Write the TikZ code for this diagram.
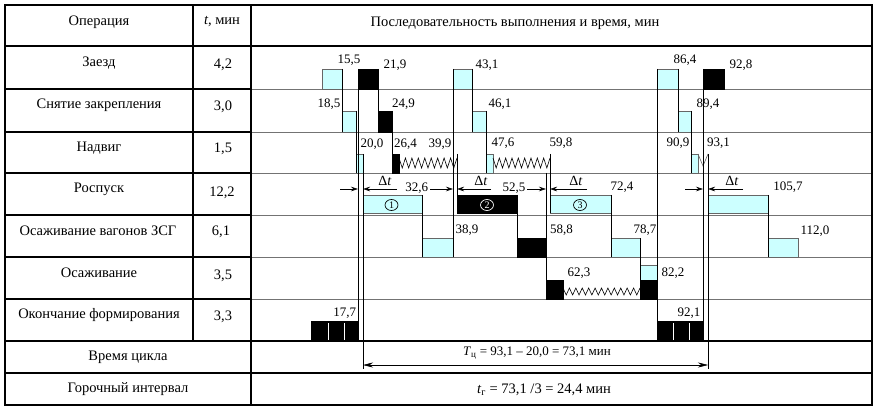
\documentclass[tikz,border=0pt]{standalone}
\usepackage{fontspec}
\setmainfont{Liberation Serif}
\usetikzlibrary{arrows.meta,shapes.geometric}
\definecolor{lcyan}{HTML}{CCFFFF}
\begin{document}
\begin{tikzpicture}[x=1pt,y=-1pt,
  cbox/.style={fill=lcyan,draw=black!60,line width=0.6pt},
  bbox/.style={fill=black,draw=black,line width=0.6pt},
  link/.style={draw=black,line width=0.6pt},
  heavy/.style={line width=1.4pt},
  gridrule/.style={draw=black!55,line width=0.7pt},
  lbl/.style={font=\fontsize{14.5}{17}\selectfont,inner sep=0pt},
  num/.style={font=\fontsize{13}{15}\selectfont,inner sep=0pt},
  dtlbl/.style={font=\fontsize{14}{16}\selectfont,inner sep=0pt},
  dtarrow/.style={-{Stealth[length=7pt,width=4.5pt]},line width=0.6pt},
  numcirc/.style={ellipse,draw,line width=0.7pt,inner sep=0pt,minimum width=13pt,minimum height=11pt,font=\fontsize{10}{11}\selectfont}
]
\useasboundingbox (0,0) rectangle (875,406);

% ---- table grid ----
\foreach \yy in {89,132,173,215,257,299}{
  \draw[gridrule] (251,\yy) -- (872,\yy);
  \draw[line width=1.1pt] (5,\yy) -- (251,\yy);
}
\draw[heavy] (5,46) -- (872,46);
\draw[heavy] (5,341) -- (872,341);
\draw[heavy] (5,373) -- (872,373);
\draw[heavy] (193,5) -- (193,341);
\draw[heavy] (251,5) -- (251,405);
\draw[heavy] (5,5) rectangle (872,405);

% ---- header and row titles ----
\node[lbl] (hOp) at (99,22) {Операция};
\node[lbl] (hT) at (222,22) {\textit{t}, мин};
\node[lbl] (hSeq) at (515,23) {Последовательность выполнения и время, мин};

\node[lbl] (r1) at (99,63) {Заезд};
\node[lbl] (r2) at (99,105) {Снятие закрепления};
\node[lbl] (r3) at (99,148) {Надвиг};
\node[lbl] (r4) at (99,189) {Роспуск};
\node[lbl] (r5) at (98,231) {Осаживание вагонов ЗСГ};
\node[lbl] (r6) at (99,273) {Осаживание};
\node[lbl] (r7) at (99,315) {Окончание формирования};
\node[lbl] (r8) at (128,357) {Время цикла};
\node[lbl] (r9) at (128,389) {Горочный интервал};

\node[lbl] (t1) at (223,65) {4,2};
\node[lbl] (t2) at (223,107) {3,0};
\node[lbl] (t3) at (223,149) {1,5};
\node[lbl] (t4) at (222,193) {12,2};
\node[lbl] (t5) at (221,232) {6,1};
\node[lbl] (t6) at (223,276) {3,5};
\node[lbl] (t7) at (223,317) {3,3};

% ---- Заезд ----
\draw[cbox] (322,69) rectangle (342,89);
\draw[bbox] (358,69) rectangle (378,89);
\draw[cbox] (453,69) rectangle (472,89);
\draw[cbox] (657,69) rectangle (678,89);
\draw[bbox] (703,69) rectangle (724,89);

% ---- Снятие закрепления ----
\draw[cbox] (342,111) rectangle (356,132);
\draw[bbox] (378,111) rectangle (392,132);
\draw[cbox] (472,111) rectangle (486,132);
\draw[cbox] (678,111) rectangle (691,132);

% ---- Надвиг ----
\draw[cbox] (356,154) rectangle (363,173);
\draw[bbox] (392,154) rectangle (399,173);
\draw[cbox] (486,154) rectangle (493,173);
\draw[cbox] (691,154) rectangle (698,173);
\draw[link] (399,158) \foreach \k in {1,...,9}{ -- ++(3.222,10) -- ++(3.222,-10) };
\draw[link] (493,158) \foreach \k in {1,...,9}{ -- ++(3.167,10) -- ++(3.167,-10) };
\draw[draw=black!60,line width=0.6pt] (698,154) -- (703,166) -- (708,154);

% ---- Роспуск ----
\draw[cbox] (363,195) rectangle (422,213);
\draw[bbox] (457,195) rectangle (517,213);
\draw[cbox] (550,195) rectangle (611,213);
\draw[cbox] (708,195) rectangle (768,213);
\node[numcirc] (c1) at (391.5,205) {1};
\node[numcirc,draw=white,text=white] (c2) at (487,205) {2};
\node[numcirc] (c3) at (580,205) {3};

% ---- Осаживание вагонов ЗСГ ----
\draw[cbox] (422,238) rectangle (453,257);
\draw[bbox] (517,238) rectangle (546,257);
\draw[cbox] (611,238) rectangle (640,257);
\draw[cbox] (768,238) rectangle (798,257);

% ---- Осаживание ----
\draw[bbox] (546,280) rectangle (563,299);
\draw[cbox] (640,265) rectangle (657,280);
\draw[bbox] (640,280) rectangle (657,299);
\draw[link] (563,288) \foreach \k in {1,...,12}{ -- ++(3.208,7) -- ++(3.208,-7) };

% ---- Окончание формирования ----
\draw[bbox] (311,321) rectangle (358,341);
\draw[bbox] (657,321) rectangle (703,341);
\foreach \xx in {328,344,673,689}{
  \draw[white,line width=0.9pt] (\xx,323) -- (\xx,340);
}

% ---- vertical links between operations ----
\foreach \xx/\ya/\yb in {342/69/132, 356/111/173, 358/69/341, 363/154/369,
    378/69/132, 392/111/173, 422/195/257, 453/69/257, 457/154/213,
    472/69/132, 486/111/173, 517/195/257, 546/173/299, 550/154/213,
    611/195/257, 640/238/299, 657/69/341, 678/69/132, 691/111/173,
    703/69/341, 708/154/369, 768/195/257}{
  \draw[link] (\xx,\ya) -- (\xx,\yb);
}

% ---- time labels ----
\node[num] (n155) at (349,60) {15,5};
\node[num] (n219) at (395,65) {21,9};
\node[num] (n431) at (487,65) {43,1};
\node[num] (n864) at (685,60) {86,4};
\node[num] (n928) at (741,65) {92,8};
\node[num] (n185) at (329,104) {18,5};
\node[num] (n249) at (403.5,104) {24,9};
\node[num] (n461) at (500,104) {46,1};
\node[num] (n894) at (708,104) {89,4};
\node[num] (n200) at (372,144) {20,0};
\node[num] (n264) at (405.5,144) {26,4};
\node[num] (n399) at (440,144) {39,9};
\node[num] (n476) at (503,143) {47,6};
\node[num] (n598) at (561,143) {59,8};
\node[num] (n909) at (678,143) {90,9};
\node[num] (n931) at (718.5,143) {93,1};
\node[num] (n326) at (416.7,188) {32,6};
\node[num] (n525) at (514,188) {52,5};
\node[num] (n724) at (622,187) {72,4};
\node[num] (n1057) at (788,187) {105,7};
\node[num] (n389) at (467,230) {38,9};
\node[num] (n588) at (561.5,230) {58,8};
\node[num] (n787) at (645,230) {78,7};
\node[num] (n1120) at (815,231) {112,0};
\node[num] (n623) at (579,273) {62,3};
\node[num] (n822) at (673,273) {82,2};
\node[num] (n177) at (344.7,313) {17,7};
\node[num] (n921) at (689,313) {92,1};

% ---- Δt intervals between cuts ----
\foreach \xa/\xb/\xc/\xd/\xm in {340/358/397/363/385, 430/453/491/457/481,
    527/546/587/550/576, 685/703/743/708/732}{
  \draw[dtarrow] (\xa,189) -- (\xb,189);
  \draw[dtarrow] (\xc,189) -- (\xd,189);
  \node[dtlbl] at (\xm,181) {Δ\textit{t}};
}

% ---- cycle time ----
\coordinate (cycA) at (363,365);
\coordinate (cycB) at (708,365);
\draw[{Stealth[length=10pt,width=5pt]}-{Stealth[length=10pt,width=5pt]},line width=0.6pt] (cycA) -- (cycB);
\node[num] (tc) at (537,353) {\textit{T}\textsubscript{ц} = 93,1 – 20,0 = 73,1 мин};
\node[lbl] (tg) at (544,390) {\textit{t}\textsubscript{г} = 73,1 /3 = 24,4 мин};
\end{tikzpicture}
\end{document}
